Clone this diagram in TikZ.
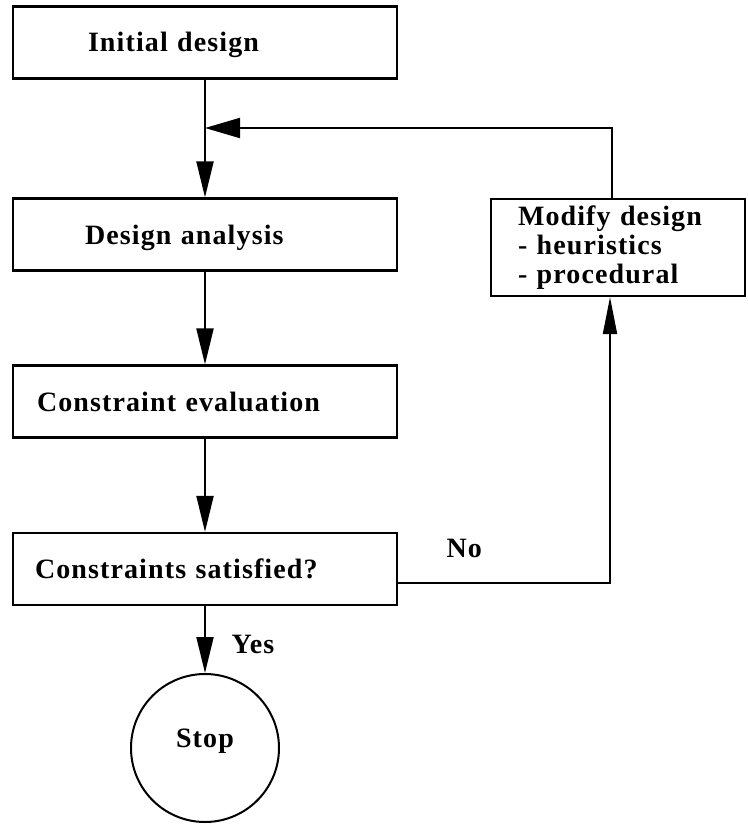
\documentclass[tikz,border=0pt]{standalone}
\usepackage{fontspec}
\setmainfont{Liberation Serif}[LetterSpace=4]
\usetikzlibrary{arrows.meta,calc}

\begin{document}
\begin{tikzpicture}[x=1pt,y=-1pt,
  font=\fontsize{28}{29}\selectfont\bfseries,
  stepbox/.style={draw, line width=2.2pt, rectangle, minimum width=384pt,
    minimum height=72pt, align=left, text height=19pt, text depth=0pt,
    inner ysep=0pt},
  flow/.style={line width=2pt, -{Triangle[length=36pt,width=17pt]}},
  upflow/.style={line width=2pt, -{Triangle[length=37pt,width=14pt]}},
  backflow/.style={line width=2pt, -{Triangle[length=35pt,width=20pt]}}
]
\useasboundingbox (0,0) rectangle (747,824);

% main column of steps
\node[stepbox, inner xsep=75pt, text width=234pt] (init) at (205,42.5) {Initial design};
\node[stepbox, inner xsep=72pt, text width=240pt] (ana) at (205,234.5) {Design analysis};
\node[stepbox, inner xsep=24pt, text width=336pt] (eval) at (205,401.5) {Constraint evaluation};
\node[stepbox, inner xsep=22pt, text width=340pt] (sat) at (205,569) {Constraints satisfied?};

% modification box on the right
\node[draw, line width=2.2pt, rectangle, minimum width=254pt, minimum height=97pt,
  align=left, inner xsep=27pt, text width=200pt, inner ysep=0pt] (mod) at (618,247.5)
  {Modify design\\- heuristics\\- procedural};

% terminal
\node[draw, circle, line width=2pt, minimum size=148pt, text height=19pt,
  text depth=20pt, inner sep=0pt] (stop) at (205,748) {Stop};

% connectors
\draw[flow] (init.south) -- (ana.north);
\draw[flow] (ana.south) -- (eval.north);
\draw[flow] (eval.south) -- (sat.north);
\draw[flow] (sat.south) -- (stop.north);
\node[anchor=base west] (yes) at (228,653) {Yes};

\coordinate (nocorner) at (610,583);
\draw[upflow] (sat.east |- nocorner) -- (nocorner) -- (mod.south -| nocorner);
\node[anchor=base west] (no) at (443,557) {No};

\coordinate (fbtop) at (612,128);
\draw[backflow] (mod.north -| fbtop) -- (fbtop) -- (fbtop -| init.south);
\end{tikzpicture}
\end{document}
